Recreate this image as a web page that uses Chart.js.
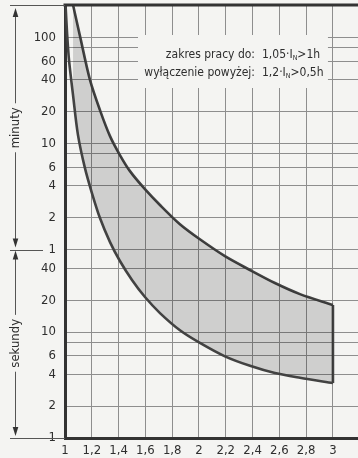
<!DOCTYPE html>
<html><head><meta charset="utf-8">
<script src="https://cdn.jsdelivr.net/npm/chart.js@4.4.1/dist/chart.umd.min.js"></script>
<style>html,body{margin:0;padding:0;background:#f4f4f2;overflow:hidden}canvas{display:block}</style>
</head><body>
<canvas id="c" width="358" height="458"></canvas>
<script>
// x: multiple of rated current I/In ; y: tripping time in seconds
const xTicks = [1, 1.2, 1.4, 1.6, 1.8, 2, 2.2, 2.4, 2.6, 2.8, 3];
const xTickLabels = ['1', '1,2', '1,4', '1,6', '1,8', '2', '2,2', '2,4', '2,6', '2,8', '3'];
const yTicks = [1, 2, 4, 6, 8, 10, 20, 40, 60, 120, 240, 360, 480, 600, 1200, 2400, 3600, 4800, 6000];
const yTickLabels = ['1', '2', '4', '6', '', '10', '20', '40', '1', '2', '4', '6', '', '10', '20', '40', '60', '', '100'];
const yMin = 1, yMax = 12200, xMin = 1, xMax = 3.187;

const upperX = [1.060, 1.112, 1.187, 1.261, 1.336, 1.410, 1.485, 1.597, 1.709, 1.858, 2.007, 2.194, 2.381, 2.567, 2.754, 3.0];
const upperY = [12200, 6200, 2385, 1243, 706, 468, 330, 223, 158, 104, 75, 52, 38.5, 29, 22.8, 18];
const lowerX = [1.004, 1.015, 1.030, 1.060, 1.097, 1.149, 1.201, 1.261, 1.336, 1.410, 1.500, 1.597, 1.709, 1.858, 2.007, 2.194, 2.381, 2.567, 2.754, 3.0];
const lowerY = [12200, 6760, 3680, 1722, 722, 352, 205, 119, 70.6, 46.8, 31, 21.4, 15.1, 10.4, 7.9, 5.9, 4.8, 4.1, 3.7, 3.3];

const noteLabels = ['zakres pracy do:', 'wyłączenie powyżej:'];
const noteValues = [['1,05·I', 'N', '>1h'], ['1,2·I', 'N', '>0,5h']];
const sideLabels = ['minuty', 'sekundy'];
const minuteBoundary = 60;

const FONT = "'Liberation Sans Narrow', 'DejaVu Sans Condensed', 'Arial Narrow', sans-serif";
const INK = '#2e2e2e';
const BG = '#f4f4f2';

const toPts = (xs, ys) => xs.map((x, i) => ({x, y: ys[i]}));

const decor = {
  id: 'decor',
  beforeDatasetsDraw(chart) {
    const {ctx, chartArea: a} = chart;
    const bx0 = a.left + 73, bx1 = chart.scales.x.getPixelForValue(3) - 5;
    const by0 = 35, by1 = 88;
    ctx.save();
    ctx.fillStyle = BG;
    ctx.fillRect(bx0, by0, bx1 - bx0, by1 - by0);
    ctx.fillStyle = INK;
    ctx.textBaseline = 'middle';
    const colX = 255;
    const rows = [55, 73];
    noteLabels.forEach((lab, i) => {
      ctx.font = '12px ' + FONT;
      ctx.textAlign = 'right';
      ctx.fillText(lab, colX, rows[i]);
      ctx.textAlign = 'left';
      let x = colX + 7;
      const [a1, sub, a2] = noteValues[i];
      ctx.fillText(a1, x, rows[i]);
      x += ctx.measureText(a1).width;
      ctx.font = '7px ' + FONT;
      ctx.fillText(sub, x, rows[i] + 3);
      x += ctx.measureText(sub).width;
      ctx.font = '12px ' + FONT;
      ctx.fillText(a2, x, rows[i]);
    });
    ctx.restore();
  },
  afterDraw(chart) {
    const {ctx, chartArea: a} = chart;
    const ys = chart.scales.y;
    const yb = ys.getPixelForValue(minuteBoundary);
    ctx.save();
    ctx.strokeStyle = '#333';
    ctx.fillStyle = '#333';
    ctx.lineWidth = 3;
    ctx.beginPath();
    ctx.moveTo(a.left - 1.5, a.top);
    ctx.lineTo(a.right, a.top);
    ctx.stroke();
    ctx.lineWidth = 1;
    ctx.strokeStyle = '#555';
    ctx.beginPath();
    ctx.moveTo(10, a.top + 0.5); ctx.lineTo(a.left, a.top + 0.5);
    ctx.moveTo(10, Math.round(yb) + 0.5); ctx.lineTo(43, Math.round(yb) + 0.5);
    ctx.moveTo(10, a.bottom + 0.5); ctx.lineTo(a.left, a.bottom + 0.5);
    ctx.stroke();
    const ax = 15.5;
    const arrow = (tipY, dir) => {
      ctx.beginPath();
      ctx.moveTo(ax, tipY);
      ctx.lineTo(ax - 2.8, tipY - dir * 9);
      ctx.lineTo(ax + 2.8, tipY - dir * 9);
      ctx.closePath();
      ctx.fill();
    };
    ctx.font = '13px ' + FONT;
    const segs = [[a.top + 3, yb - 2, sideLabels[0]], [yb + 1, a.bottom - 2, sideLabels[1]]];
    segs.forEach(([t, b, lab]) => {
      const mid = (t + b) / 2;
      const w = ctx.measureText(lab).width / 2 + 4;
      ctx.beginPath();
      ctx.moveTo(ax, t + 4); ctx.lineTo(ax, mid - w);
      ctx.moveTo(ax, mid + w); ctx.lineTo(ax, b - 4);
      ctx.stroke();
      arrow(t, -1);
      arrow(b, 1);
      ctx.save();
      ctx.translate(ax, mid);
      ctx.rotate(-Math.PI / 2);
      ctx.textAlign = 'center';
      ctx.textBaseline = 'middle';
      ctx.fillStyle = INK;
      ctx.fillText(lab, 0, 0);
      ctx.restore();
    });
    ctx.restore();
  }
};

const lineStyle = {showLine: true, pointRadius: 0, borderColor: '#424242', borderWidth: 2.6, tension: 0.3};

new Chart(document.getElementById('c'), {
  type: 'scatter',
  data: {
    datasets: [
      Object.assign({label: 'lower', data: toPts(lowerX, lowerY), fill: '+1', backgroundColor: 'rgba(0,0,0,0.15)'}, lineStyle),
      Object.assign({label: 'upper', data: toPts(upperX, upperY), fill: false}, lineStyle),
      Object.assign({label: 'edge', data: [{x: lowerX[lowerX.length - 1], y: lowerY[lowerY.length - 1]}, {x: upperX[upperX.length - 1], y: upperY[upperY.length - 1]}], fill: false}, lineStyle, {tension: 0})
    ]
  },
  options: {
    responsive: false,
    animation: false,
    devicePixelRatio: 1,
    layout: {padding: {top: 5, left: 0, right: 0, bottom: 0}},
    plugins: {legend: {display: false}, tooltip: {enabled: false}},
    scales: {
      x: {
        type: 'linear', min: xMin, max: xMax,
        afterBuildTicks: s => { s.ticks = xTicks.map(v => ({value: v})); },
        afterFit: s => { s.height = 20; s.paddingLeft = 0; s.paddingRight = 0; },
        ticks: {autoSkip: false, maxRotation: 0, padding: 5, color: INK, font: {family: FONT, size: 13},
          callback: (v, i) => xTickLabels[i]},
        grid: {color: '#8e8e8e', lineWidth: 1, drawTicks: false},
        border: {color: '#333', width: 3}
      },
      y: {
        type: 'logarithmic', min: yMin, max: yMax,
        afterBuildTicks: s => { s.ticks = yTicks.map(v => ({value: v})); },
        afterFit: s => { s.width = 65; s.paddingTop = 0; s.paddingBottom = 0; },
        ticks: {autoSkip: false, padding: 9, color: INK, font: {family: FONT, size: 13},
          callback: (v, i) => yTickLabels[i]},
        grid: {color: '#8e8e8e', lineWidth: 1, drawTicks: false},
        border: {color: '#333', width: 3}
      }
    }
  },
  plugins: [decor]
});
</script>
</body></html>
